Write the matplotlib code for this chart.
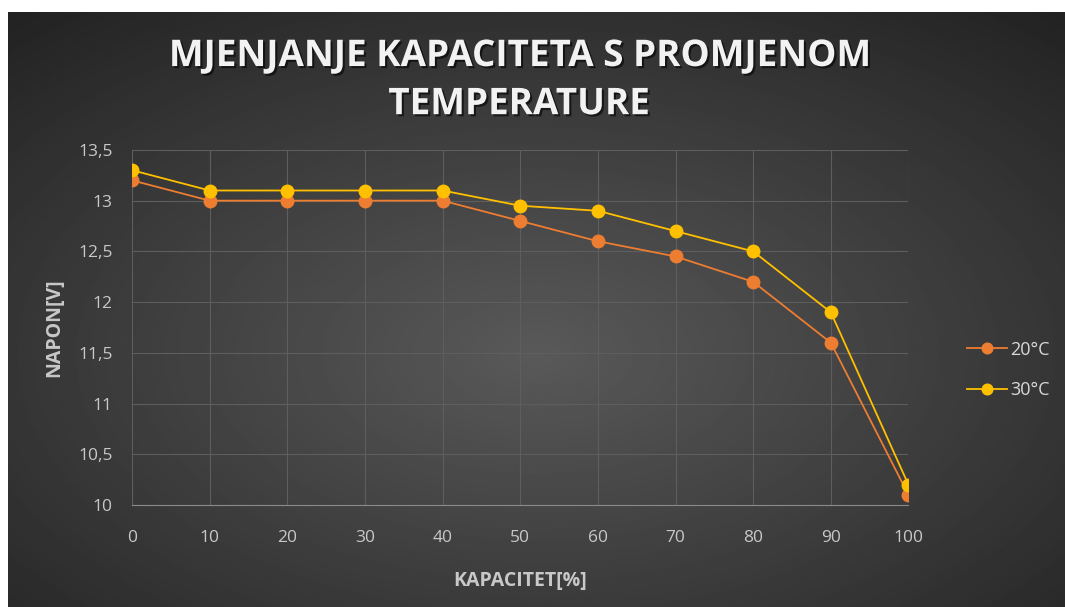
import numpy as np
import matplotlib
matplotlib.use("Agg")
import matplotlib.pyplot as plt
import matplotlib.patheffects as pe

kapacitet = [0, 10, 20, 30, 40, 50, 60, 70, 80, 90, 100]
napon_20 = [13.2, 13.0, 13.0, 13.0, 13.0, 12.8, 12.6, 12.45, 12.2, 11.6, 10.1]
napon_30 = [13.3, 13.1, 13.1, 13.1, 13.1, 12.95, 12.9, 12.7, 12.5, 11.9, 10.2]
y_ticks = [10, 10.5, 11, 11.5, 12, 12.5, 13, 13.5]
y_labels = ["10", "10,5", "11", "11,5", "12", "12,5", "13", "13,5"]

plt.rcParams["font.family"] = ["Open Sans", "DejaVu Sans"]

fig = plt.figure(figsize=(10.65, 6.07), dpi=100)
fig.patch.set_facecolor("white")

# dark radial gradient background (Excel style)
bg = fig.add_axes([8 / 1065, 0, 1 - 8 / 1065, 1 - 12 / 607])
yy, xx = np.mgrid[-1:1:300j, -1:1:500j]
r = np.sqrt(xx ** 2 + (yy - 0.15) ** 2) / np.sqrt(2)
bg.imshow(0.35 - 0.2 * r, cmap="gray", vmin=0, vmax=1, aspect="auto",
          extent=[0, 1, 0, 1])
bg.set_axis_off()

ax = fig.add_axes([0.124, 0.168, 0.729, 0.585])
ax.set_facecolor("none")

ax.plot(kapacitet, napon_20, color="#ED7D31", lw=1.3, marker="o", ms=9,
        label="20°C", zorder=3)
ax.plot(kapacitet, napon_30, color="#FFC000", lw=1.3, marker="o", ms=9,
        label="30°C", zorder=4)

ax.set_xlim(0, 100)
ax.set_ylim(10, 13.5)
ax.set_xticks(kapacitet)
ax.set_yticks(y_ticks)
ax.set_yticklabels(y_labels)
ax.grid(True, color="#5e5e5e", lw=0.8)
ax.set_axisbelow(True)
for s in ["top", "right", "left"]:
    ax.spines[s].set_visible(False)
ax.spines["bottom"].set_color("#8a8a8a")
ax.tick_params(axis="x", length=0, colors="#c8c8c8", labelsize=12.5, pad=18)
ax.tick_params(axis="y", length=0, colors="#c8c8c8", labelsize=12.5, pad=14)

ax.set_xlabel("KAPACITET[%]", color="#c8c8c8", fontsize=14, fontweight="bold",
              labelpad=18)
ax.set_ylabel("NAPON[V]", color="#c8c8c8", fontsize=14, fontweight="bold",
              labelpad=10)

fig.text(0.487, 0.868, "MJENJANJE KAPACITETA S PROMJENOM\nTEMPERATURE",
         ha="center", va="center", color="#f2f2f2", fontsize=26.5,
         fontweight="bold", linespacing=1.35,
         path_effects=[pe.withSimplePatchShadow(offset=(1.5, -1.5),
                                                shadow_rgbFace="black",
                                                alpha=0.6)])

leg = ax.legend(loc="center left", bbox_to_anchor=(1.055, 0.38), frameon=False,
                fontsize=13, labelspacing=1.25, handlelength=2.2,
                handletextpad=0.15, markerscale=0.85)
for t in leg.get_texts():
    t.set_color("#d9d9d9")

fig.savefig("out.png", dpi=100, facecolor=fig.get_facecolor())
